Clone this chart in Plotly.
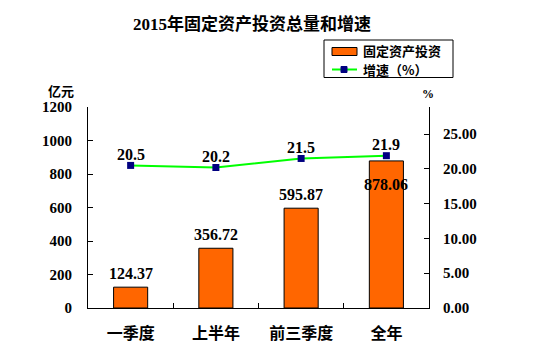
import plotly.graph_objects as go

categories = ["一季度", "上半年", "前三季度", "全年"]
investment = [124.37, 356.72, 595.87, 878.06]
growth = [20.5, 20.2, 21.5, 21.9]
left_ticks = [0, 200, 400, 600, 800, 1000, 1200]
right_ticks = [0, 5, 10, 15, 20, 25]

FONT = "Liberation Serif, Noto Sans CJK SC, serif"
CJK = "Noto Sans CJK SC, Liberation Serif"

W, H = 554, 361
L, R, T, B = 88, 125, 107, 53
PW, PH = W - L - R, H - T - B


def px(x):
    return (x - L) / PW


def py(y):
    return (H - B - y) / PH


fig = go.Figure()
fig.add_trace(go.Bar(
    x=categories, y=investment, name="固定资产投资",
    marker=dict(color="#FF6600", line=dict(color="black", width=1)),
    width=0.4, showlegend=False,
))
fig.add_trace(go.Scatter(
    x=categories, y=growth, name="增速（%）", yaxis="y2",
    mode="lines+markers",
    line=dict(color="#00FF00", width=2),
    marker=dict(symbol="square", size=7, color="#000080"),
    showlegend=False,
))

for c, v in zip(categories, investment):
    shift = 14 if v < 800 else -24
    fig.add_annotation(x=c, y=v, text=f"{v:.2f}", showarrow=False,
                       xanchor="center", yanchor="middle",
                       yshift=shift, font=dict(family=FONT, size=16, color="black", weight="bold"))
for c, v in zip(categories, growth):
    fig.add_annotation(x=c, y=v, yref="y2", text=f"{v}", showarrow=False,
                       xanchor="center", yanchor="middle",
                       yshift=11, font=dict(family=FONT, size=16, color="black", weight="bold"))

fig.add_annotation(x=px(61), y=py(91), xref="paper", yref="paper", text="亿元", showarrow=False,
                   xanchor="center", yanchor="middle",
                   font=dict(family=CJK, size=13, color="black", weight="bold"))
fig.add_annotation(x=px(428), y=py(94), xref="paper", yref="paper", text="%", showarrow=False,
                   xanchor="center", yanchor="middle",
                   font=dict(family=FONT, size=12, color="black", weight="bold"))

# legend (drawn manually to match the reference's swatches)
shapes = [
    dict(type="rect", xref="paper", yref="paper", x0=px(324), x1=px(453), y0=py(77.5), y1=py(40),
         line=dict(color="black", width=1), fillcolor="white", layer="above"),
    dict(type="rect", xref="paper", yref="paper", x0=px(332), x1=px(357), y0=py(55.5), y1=py(47.5),
         line=dict(color="black", width=1), fillcolor="#FF6600", layer="above"),
    dict(type="line", xref="paper", yref="paper", x0=px(332), x1=px(357), y0=py(69.5), y1=py(69.5),
         line=dict(color="#00FF00", width=2), layer="above"),
    dict(type="rect", xref="paper", yref="paper", x0=px(341), x1=px(347), y0=py(72.5), y1=py(66.5),
         line=dict(color="#000080", width=1), fillcolor="#000080", layer="above"),
]
fig.add_annotation(x=px(361), y=py(51), xref="paper", yref="paper", text="固定资产投资",
                   showarrow=False, xanchor="left", yanchor="middle",
                   font=dict(family=CJK, size=13, color="black", weight="bold"))
fig.add_annotation(x=px(361), y=py(69.5), xref="paper", yref="paper", text="增速（%）",
                   showarrow=False, xanchor="left", yanchor="middle",
                   font=dict(family=CJK, size=13, color="black", weight="bold"))

fig.update_layout(
    width=W, height=H,
    margin=dict(l=L, r=R, t=T, b=B),
    paper_bgcolor="white", plot_bgcolor="white",
    shapes=shapes,
    title=dict(text="2015年固定资产投资总量和增速", x=252 / W, xanchor="center",
               y=1 - 24 / H, yanchor="middle", yref="container",
               font=dict(family=FONT, size=17, color="black", weight="bold")),
    showlegend=False,
    xaxis=dict(type="category", showline=True, linecolor="black", linewidth=1,
               ticks="inside", tickson="boundaries", ticklen=5, tickcolor="black",
               showgrid=False, automargin=False,
               tickfont=dict(family=CJK, size=16, color="black", weight="bold"),
               ticklabelstandoff=11),
    yaxis=dict(range=[0, 1200], tickvals=left_ticks, showline=True, linecolor="black",
               linewidth=1, ticks="inside", ticklen=5, tickcolor="black", showgrid=False,
               zeroline=False, automargin=False,
               tickfont=dict(family=FONT, size=15, color="black", weight="bold"),
               ticklabelstandoff=12),
    yaxis2=dict(range=[0, 28.9], tickvals=right_ticks, tickformat=".2f", overlaying="y",
                side="right", showline=True, linecolor="black", linewidth=1,
                ticks="inside", ticklen=5, tickcolor="black", showgrid=False, zeroline=False,
                automargin=False,
                tickfont=dict(family=FONT, size=15, color="black", weight="bold"),
                ticklabelstandoff=10),
)

fig.write_html("out.html", config={"displayModeBar": False},
               post_script="document.body.style.margin='0';")
